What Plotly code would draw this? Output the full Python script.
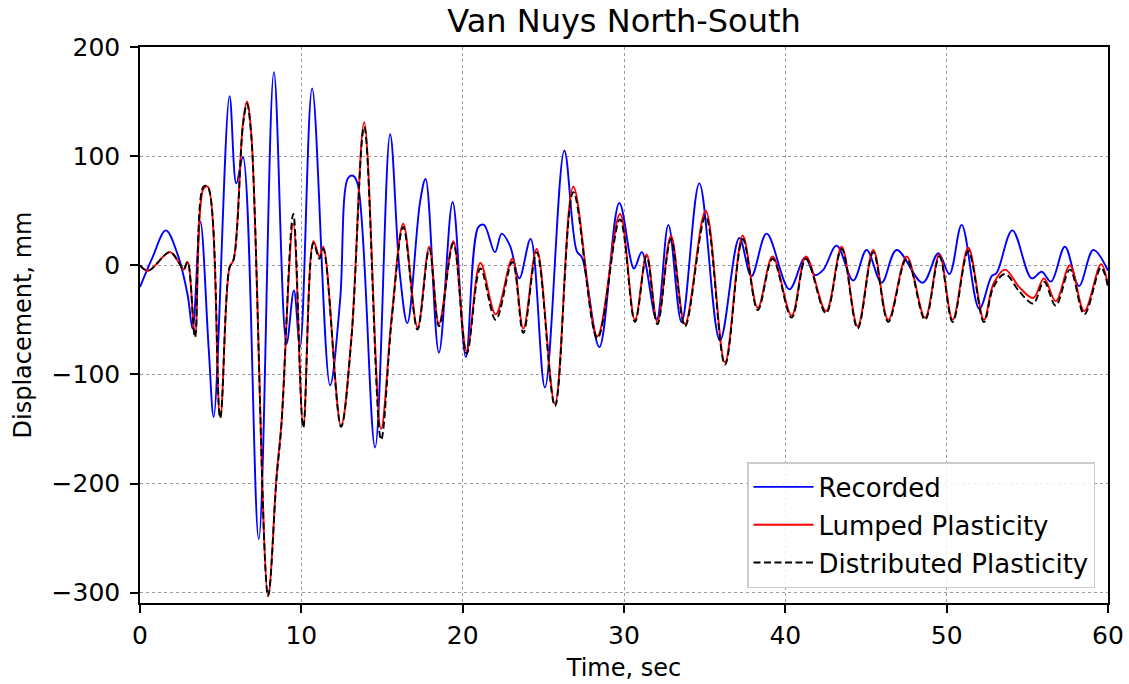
import plotly.graph_objects as go

# Recorded
t_rec = [0, 0.77, 1.6, 2.33, 2.95, 3.26, 3.74, 4.26, 4.57, 5.55, 5.97, 6.38, 7.36, 8.3, 9.08, 9.54, 9.92,
         10.67, 11.78, 12.4, 12.9, 13.2, 13.5, 14.57, 15.5, 16.1, 16.57, 17.36, 17.7, 18.53, 19.38, 20.2,
         20.97, 21.32, 22.0, 22.42, 22.93, 23.51, 24.21, 25.1, 26.3, 27.07, 27.4, 28.47, 29.71, 30.62,
         31.1, 32.02, 32.75, 33.57, 34.67, 35.95, 37.15, 37.9, 38.84, 40.25, 41.22, 41.84, 42.36, 43.18,
         44.21, 45.04, 45.97, 46.9, 48.51, 49.48, 50.17, 50.93, 52.02, 52.79, 53.1, 54.07, 55.27, 55.89,
         56.47, 57.33, 58.2, 59.09, 60]
d_rec = [-20, 7, 32, 10, -27, -58, 40, -77, -139, 155, 75, 99, -251, 177, -72, -23, -75,
         162, -110, -33, 80, 82, 74, -167, 120, -7, -53, 58, 79, -80, 58, -84,
         35, 37, 12, 29, 18, -12, 24, -112, 105, 13, 7, -75, 57, -3,
         12, -50, 37, -52, 75, -69, 25, -10, 29, -22, 7, -9, -4, 18,
         -14, 14, -16, 14, -16, 11, -8, 37, -40, -10, -7, 32, -12, -6,
         -15, 17, -19, 14, -5]

# Lumped plasticity
t_lump = [0, 0.5, 1.85, 2.43, 2.7, 2.95, 3.41, 3.93, 4.2, 4.97, 5.55, 5.8, 6.38, 6.63, 6.9, 7.94, 8.46,
          8.77, 9.5, 10.12, 10.75, 11.12, 11.36, 12.46, 13.1, 13.9, 14.94, 15.6, 16.32, 17.2, 17.93,
          18.53, 19.42, 20.25, 21.1, 22.05, 23.08, 23.76, 24.59, 25.72, 26.86, 28.35, 29.75, 30.68,
          31.4, 32.07, 32.91, 33.78, 35.06, 36.26, 37.36, 38.29, 39.21, 40.39, 41.28, 42.52, 43.49,
          44.48, 45.45, 46.38, 47.52, 48.66, 49.55, 50.37, 51.34, 52.31, 52.9, 53.62, 54.5, 55.37,
          56.03, 56.76, 57.64, 58.53, 59.57, 60]
d_lump = [0, -5, 12, 2, -4, 3, -64, 70, 72, -139, -2, 5, 130, 150, 120, -303, -194,
          -144, 38, -147, 22, 8, 17, -147, -67, 131, -150, -47, 38, -57, 17,
          -54, 22, -79, 2, -45, 6, -58, 15, -127, 72, -65, 47, -50,
          10, -52, 27, -54, 50, -89, 27, -39, 8, -46, 8, -42, 17,
          -56, 14, -50, 8, -48, 10, -50, 16, -50, -17, -4, -20, -30,
          -12, -33, 0, -42, 1, -18]

# Distributed plasticity
t_dist = t_lump
d_dist = [0, -5, 12, 2, -4, 3, -66, 72, 72, -140, -2, 5, 128, 148, 118, -303, -196,
          -146, 47, -149, 20, 6, 15, -148, -68, 127, -160, -50, 35, -59, 15,
          -56, 20, -81, -3, -50, 3, -62, 12, -129, 67, -67, 42, -52,
          8, -54, 24, -56, 45, -91, 24, -41, 6, -48, 6, -44, 15,
          -58, 12, -52, 6, -50, 8, -52, 13, -52, -20, -8, -24, -35,
          -15, -37, -4, -45, -2, -20]

x_ticks = [0, 10, 20, 30, 40, 50, 60]
y_ticks = [-300, -200, -100, 0, 100, 200]
y_ticktext = ["\u2212300", "\u2212200", "\u2212100", "0", "100", "200"]

fig = go.Figure()
fig.add_trace(go.Scatter(x=t_rec, y=d_rec, mode="lines", name="Recorded", legendgroup="a",
                         line=dict(color="#0000ff", width=1.9, shape="spline", smoothing=1)))
fig.add_trace(go.Scatter(x=t_lump, y=d_lump, mode="lines", name="Lumped Plasticity", legendgroup="b",
                         line=dict(color="#ff0000", width=1.9, shape="spline", smoothing=1)))
fig.add_trace(go.Scatter(x=t_dist, y=d_dist, mode="lines", name="Distributed Plasticity", legendgroup="c",
                         line=dict(color="#000000", width=1.9, dash="7px,3.5px", shape="spline", smoothing=1)))

font = "DejaVu Sans, sans-serif"
axis_common = dict(
    showline=True, linecolor="black", linewidth=1.5, mirror=True,
    ticks="outside", ticklen=8, tickwidth=1.5, tickcolor="black",
    showgrid=True, gridcolor="#9a9a9a", griddash="dot", gridwidth=1,
    zeroline=False, tickfont=dict(family=font, size=25, color="black"),
    automargin=False,
)
fig.update_layout(
    width=1129, height=684,
    margin=dict(l=140, r=21, t=47, b=81),
    paper_bgcolor="white", plot_bgcolor="white",
    title=dict(text="Van Nuys North-South", x=624 / 1129, xanchor="center", y=1 - 21 / 684,
               yanchor="middle", font=dict(family=font, size=32, color="black")),
    xaxis=dict(range=[0, 60], tickvals=x_ticks, ticklabelstandoff=1,
               title=dict(text="Time, sec", font=dict(family=font, size=24, color="black"), standoff=10),
               **axis_common),
    yaxis=dict(range=[-309.5, 200], tickvals=y_ticks, ticktext=y_ticktext, ticklabelstandoff=5,
               title=dict(text="Displacement, mm", font=dict(family=font, size=24, color="black"), standoff=13),
               **axis_common),
    legend=dict(x=(1095 - 140) / 968, xanchor="right", y=(603 - 588) / 556, yanchor="bottom",
                bgcolor="rgba(255,255,255,0.85)", bordercolor="#cccccc", borderwidth=1.5,
                font=dict(family=font, size=26, color="black"), itemwidth=60, tracegroupgap=1),
    showlegend=True,
)

fig.write_html("out.html")
